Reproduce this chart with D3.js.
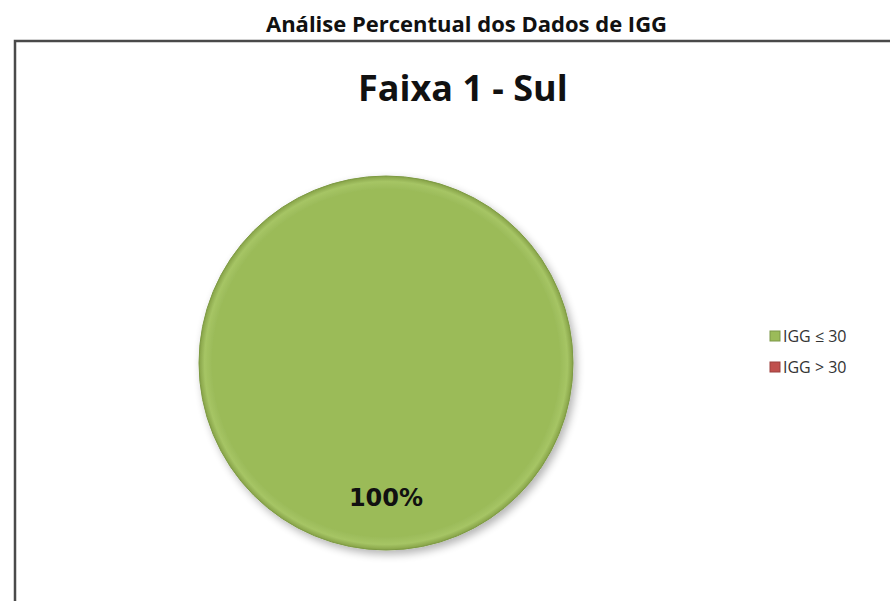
<!DOCTYPE html>
<html>
<head>
<meta charset="utf-8">
<script src="https://cdn.jsdelivr.net/npm/d3@7"></script>
<style>
  body { margin: 0; background: #fff; }
</style>
</head>
<body>
<div id="chart-container"></div>
<script>
// Dados
const categorias = ['IGG ≤ 30', 'IGG > 30'];
const valores = [100, 0];
const cores = ['#9bbb59', '#c0504d'];
const tituloPagina = 'Análise Percentual dos Dados de IGG';
const tituloGrafico = 'Faixa 1 - Sul';

const width = 890;
const height = 601;

const svg = d3.select('#chart-container')
  .append('svg')
  .attr('width', width)
  .attr('height', height);

const defs = svg.append('defs');

// sombra suave
const sombra = defs.append('filter')
  .attr('id', 'sombra')
  .attr('x', '-20%').attr('y', '-20%')
  .attr('width', '140%').attr('height', '140%');
sombra.append('feGaussianBlur').attr('in', 'SourceAlpha').attr('stdDeviation', 4);
sombra.append('feOffset').attr('dx', 3).attr('dy', 4).attr('result', 'off');
sombra.append('feComponentTransfer').append('feFuncA').attr('type', 'linear').attr('slope', 0.3);
const merge = sombra.append('feMerge');
merge.append('feMergeNode');
merge.append('feMergeNode').attr('in', 'SourceGraphic');

// bisel da borda
const bisel = defs.append('radialGradient')
  .attr('id', 'bisel')
  .attr('cx', '50%').attr('cy', '50%').attr('r', '50%');
bisel.append('stop').attr('offset', '93%').attr('stop-color', '#9bbb59');
bisel.append('stop').attr('offset', '97%').attr('stop-color', '#a6c565');
bisel.append('stop').attr('offset', '100%').attr('stop-color', '#86a247');

// Título da página
svg.append('text')
  .attr('x', 667)
  .attr('y', 32)
  .attr('text-anchor', 'end')
  .style('font-family', '"Open Sans", sans-serif')
  .style('font-weight', 'bold')
  .style('font-size', '22px')
  .attr('fill', '#111')
  .text(tituloPagina);

// Moldura do gráfico
svg.append('path')
  .attr('d', `M15,${height + 5} L15,41 L${width + 5},41`)
  .attr('fill', 'none')
  .attr('stroke', '#4a4a4a')
  .attr('stroke-width', 2.5);

// Título do gráfico
svg.append('text')
  .attr('x', 358)
  .attr('y', 101)
  .attr('text-anchor', 'start')
  .style('font-family', '"Open Sans", sans-serif')
  .style('font-weight', 'bold')
  .style('font-size', '36px')
  .attr('fill', '#111')
  .text(tituloGrafico);

// Pizza
const cx = 386, cy = 363, raio = 187;

const pie = d3.pie().sort(null).value(d => d);
const arcos = pie(valores);

const arc = d3.arc().innerRadius(0).outerRadius(raio);

const g = svg.append('g')
  .attr('transform', `translate(${cx}, ${cy})`);

g.selectAll('path')
  .data(arcos.filter(d => d.value > 0))
  .enter()
  .append('path')
  .attr('d', arc)
  .attr('fill', 'url(#bisel)')
  .attr('stroke', '#7d9a43')
  .attr('stroke-width', 1)
  .attr('filter', 'url(#sombra)');

// Rótulos
const total = d3.sum(valores);
const arcoRotulo = d3.arc().innerRadius(raio * 0.72).outerRadius(raio * 0.72);

g.selectAll('text.rotulo')
  .data(arcos.filter(d => d.value > 0))
  .enter()
  .append('text')
  .attr('class', 'rotulo')
  .attr('transform', d => `translate(${arcoRotulo.centroid(d)})`)
  .attr('text-anchor', 'middle')
  .attr('dy', '0.35em')
  .style('font-family', '"DejaVu Sans", sans-serif')
  .style('font-weight', 'bold')
  .style('font-size', '24px')
  .attr('fill', '#111')
  .text(d => Math.round(d.value / total * 100) + '%');

// Legenda
const legenda = svg.append('g')
  .attr('transform', 'translate(770, 336)');

const itens = legenda.selectAll('g')
  .data(categorias)
  .enter()
  .append('g')
  .attr('transform', (d, i) => `translate(0, ${i * 31})`);

itens.append('rect')
  .attr('x', 0)
  .attr('y', -5)
  .attr('width', 10)
  .attr('height', 10)
  .attr('fill', (d, i) => cores[i])
  .attr('stroke', (d, i) => d3.color(cores[i]).darker(0.6))
  .attr('stroke-width', 1);

itens.append('text')
  .attr('x', 13)
  .attr('y', 0)
  .attr('dy', '0.35em')
  .style('font-family', '"Open Sans", sans-serif')
  .style('font-size', '16px')
  .attr('fill', '#333')
  .text(d => d);
</script>
</body>
</html>
